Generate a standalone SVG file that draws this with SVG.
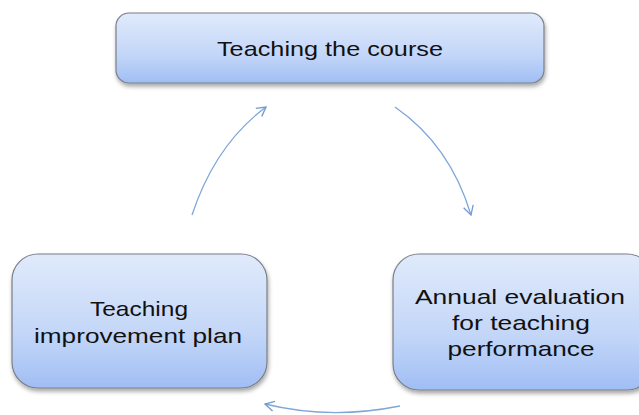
<svg xmlns="http://www.w3.org/2000/svg" width="639" height="415" viewBox="0 0 639 415">
<defs>
<linearGradient id="g" x1="0" y1="0" x2="0" y2="1">
<stop offset="0" stop-color="#e0eafb"/>
<stop offset="0.6" stop-color="#c3d6f8"/>
<stop offset="1" stop-color="#a0bef4"/>
</linearGradient>
<filter id="sh" x="-10%" y="-10%" width="120%" height="130%">
<feDropShadow dx="1" dy="3" stdDeviation="2" flood-color="#000" flood-opacity="0.35"/>
</filter>
<marker id="ah" viewBox="0 0 12 12" refX="10" refY="6" markerWidth="12" markerHeight="12" markerUnits="userSpaceOnUse" orient="auto">
<path d="M1,1 L10,6 L1,11" fill="none" stroke="#6f9bd2" stroke-width="1.3"/>
</marker>
</defs>
<style>
.box{fill:url(#g);stroke:#7a7f88;stroke-width:1.2;filter:url(#sh)}
.t{font-family:"Liberation Sans",Arial,sans-serif;font-size:21px;fill:#111;text-anchor:middle}
.c{fill:none;stroke:#7ea6d8;stroke-width:1.3;marker-end:url(#ah)}
</style>
<g id="connectors">
<path class="c" d="M192,215 Q215,145 266,107"/>
<path class="c" d="M395,107 Q450,145 471,215"/>
<path class="c" d="M400,406 Q330,420 265,404"/>
</g>
<g id="node-top">
<rect class="box" x="116" y="13" width="428" height="70" rx="13"/>
<text class="t" x="330" y="56" textLength="226" lengthAdjust="spacingAndGlyphs">Teaching the course</text>
</g>
<g id="node-left">
<rect class="box" x="12" y="254" width="255" height="134" rx="26"/>
<text class="t" x="139" y="316" textLength="98" lengthAdjust="spacingAndGlyphs">Teaching</text>
<text class="t" x="138" y="343" textLength="208" lengthAdjust="spacingAndGlyphs">improvement plan</text>
</g>
<g id="node-right">
<rect class="box" x="393" y="254" width="260" height="136" rx="26"/>
<text class="t" x="520" y="304" textLength="210" lengthAdjust="spacingAndGlyphs">Annual evaluation</text>
<text class="t" x="521" y="330" textLength="138" lengthAdjust="spacingAndGlyphs">for teaching</text>
<text class="t" x="521" y="356" textLength="147" lengthAdjust="spacingAndGlyphs">performance</text>
</g>
</svg>
